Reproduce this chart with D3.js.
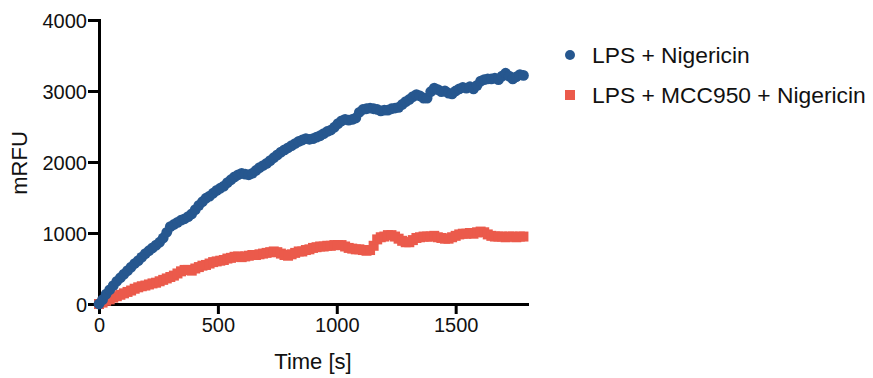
<!DOCTYPE html>
<html>
<head>
<meta charset="utf-8">
<script src="https://cdn.jsdelivr.net/npm/d3@7"></script>
<style>
  html, body { margin: 0; padding: 0; background: #fff; }
  svg { display: block; font-family: "Liberation Sans", Arial, Helvetica, sans-serif; }
</style>
</head>
<body>
<svg id="chart" width="873" height="378"></svg>
<script>
// Kinetic read: fluorescence (mRFU) sampled every 15 s
const timeS = [
  0, 15, 30, 45, 60, 75, 90, 105, 120, 135, 150, 165, 180, 195, 210, 225, 240, 255, 270, 285,
  300, 315, 330, 345, 360, 375, 390, 405, 420, 435, 450, 465, 480, 495, 510, 525, 540, 555, 570, 585,
  600, 615, 630, 645, 660, 675, 690, 705, 720, 735, 750, 765, 780, 795, 810, 825, 840, 855, 870, 885,
  900, 915, 930, 945, 960, 975, 990, 1005, 1020, 1035, 1050, 1065, 1080, 1095, 1110, 1125, 1140, 1155, 1170, 1185,
  1200, 1215, 1230, 1245, 1260, 1275, 1290, 1305, 1320, 1335, 1350, 1365, 1380, 1395, 1410, 1425, 1440, 1455, 1470, 1485,
  1500, 1515, 1530, 1545, 1560, 1575, 1590, 1605, 1620, 1635, 1650, 1665, 1680, 1695, 1710, 1725, 1740, 1755, 1770, 1785
];

const lpsNigericin = [
  0, 60, 140, 200, 260, 320, 370, 420, 470, 520, 570, 610, 660, 710, 750, 790, 830, 870, 930, 1010,
  1090, 1120, 1150, 1180, 1200, 1230, 1270, 1330, 1390, 1440, 1490, 1520, 1560, 1600, 1630, 1660, 1710, 1750, 1790, 1820,
  1840, 1830, 1820, 1840, 1880, 1920, 1950, 1980, 2020, 2060, 2100, 2140, 2170, 2200, 2230, 2260, 2290, 2310, 2330, 2320,
  2330, 2350, 2370, 2400, 2430, 2450, 2490, 2540, 2580, 2600, 2590, 2600, 2620, 2700, 2740, 2750, 2760, 2750, 2740, 2720,
  2730, 2730, 2750, 2760, 2770, 2810, 2850, 2880, 2920, 2950, 2930, 2900, 2900, 2990, 3040, 3020, 2990, 3000, 2970, 2960,
  3000, 3030, 3050, 3040, 3060, 3030, 3080, 3140, 3160, 3170, 3170, 3180, 3160, 3210, 3250, 3210, 3170, 3200, 3230, 3220
];

const lpsMccNigericin = [
  0, 20, 45, 65, 90, 110, 130, 150, 170, 190, 215, 235, 250, 260, 275, 290, 300, 320, 340, 360,
  380, 400, 430, 460, 480, 480, 470, 500, 520, 540, 550, 570, 590, 600, 610, 620, 640, 650, 665, 670,
  660, 670, 680, 690, 690, 700, 710, 720, 730, 740, 730, 710, 690, 680, 700, 720, 740, 740, 760, 770,
  790, 800, 810, 810, 820, 820, 830, 830, 830, 810, 790, 780, 770, 770, 760, 750, 760, 820, 910, 940,
  950, 970, 970, 950, 920, 890, 870, 870, 900, 930, 940, 950, 950, 950, 960, 940, 930, 920, 920, 940,
  960, 980, 990, 990, 1000, 990, 1010, 1020, 1010, 980, 960, 950, 950, 950, 940, 950, 950, 940, 950, 950
];

const seriesNames = ["LPS + Nigericin", "LPS + MCC950 + Nigericin"];
const seriesColors = ["#26578f", "#eb5a4b"];
const xTicks = [0, 500, 1000, 1500];
const yTicks = [0, 1000, 2000, 3000, 4000];
const xTitle = "Time [s]";
const yTitle = "mRFU";

const svg = d3.select("#chart");

const x = d3.scaleLinear().domain([0, 1800]).range([99, 527]);
const y = d3.scaleLinear().domain([0, 4000]).range([304, 20]);

// Axes
const xAxis = svg.append("g")
  .attr("transform", `translate(0,${y(0)})`)
  .call(d3.axisBottom(x).tickValues(xTicks).tickSize(10).tickPadding(4).tickSizeOuter(0).tickFormat(d3.format("d")));
const yAxis = svg.append("g")
  .attr("transform", `translate(${x(0)},0)`)
  .call(d3.axisLeft(y).tickValues(yTicks).tickSize(11).tickPadding(1).tickSizeOuter(0).tickFormat(d3.format("d")));

[xAxis, yAxis].forEach(g => {
  g.select(".domain").attr("stroke", "#000").attr("stroke-width", 3).attr("stroke-linecap", "square");
  g.selectAll(".tick line").attr("stroke", "#000").attr("stroke-width", 3);
  g.selectAll(".tick text").attr("fill", "#111").style("font-size", "20px")
    .style("font-family", '"Liberation Sans", Arial, Helvetica, sans-serif');
});
yAxis.selectAll(".tick text").attr("dy", "0.36em");

// Axis titles
svg.append("text")
  .attr("x", (x.range()[0] + x.range()[1]) / 2)
  .attr("y", 369)
  .attr("text-anchor", "middle")
  .attr("fill", "#111")
  .style("font-size", "22px")
  .text(xTitle);

svg.append("text")
  .attr("transform", `translate(27,${(y(0) + y(4000)) / 2 + 1}) rotate(-90)`)
  .attr("text-anchor", "middle")
  .attr("fill", "#111")
  .style("font-size", "22px")
  .text(yTitle);

// Markers: squares first, circles on top
const squareSide = 10;
svg.append("g").selectAll("rect")
  .data(lpsMccNigericin.map((v, i) => [timeS[i], v]))
  .join("rect")
  .attr("x", d => x(d[0]) - squareSide / 2)
  .attr("y", d => y(d[1]) - squareSide / 2)
  .attr("width", squareSide)
  .attr("height", squareSide)
  .attr("fill", seriesColors[1]);

svg.append("g").selectAll("circle")
  .data(lpsNigericin.map((v, i) => [timeS[i], v]))
  .join("circle")
  .attr("cx", d => x(d[0]))
  .attr("cy", d => y(d[1]))
  .attr("r", 5.4)
  .attr("fill", seriesColors[0]);

// Legend
const legend = svg.append("g");
const legendRows = [
  { name: seriesNames[0], color: seriesColors[0], shape: "circle", cy: 55 },
  { name: seriesNames[1], color: seriesColors[1], shape: "square", cy: 95 }
];
legendRows.forEach(r => {
  if (r.shape === "circle") {
    legend.append("circle").attr("cx", 570).attr("cy", r.cy).attr("r", 5).attr("fill", r.color);
  } else {
    legend.append("rect").attr("x", 565).attr("y", r.cy - 5).attr("width", 10).attr("height", 10).attr("fill", r.color);
  }
  legend.append("text")
    .attr("x", 592)
    .attr("y", r.cy + 8)
    .attr("fill", "#111")
    .style("font-size", "22.8px")
    .text(r.name);
});
</script>
</body>
</html>
